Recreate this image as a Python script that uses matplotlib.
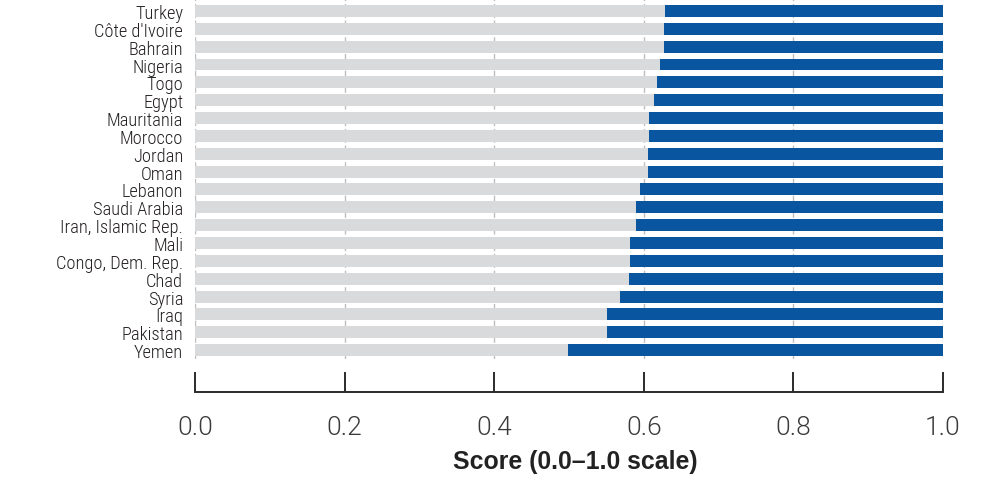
from matplotlib import pyplot as plt
import numpy as np

# Countries from bottom to top, as drawn on the chart
countries = [
    "Yemen", "Pakistan", "Iraq", "Syria", "Chad", "Congo, Dem. Rep.", "Mali",
    "Iran, Islamic Rep.", "Saudi Arabia", "Lebanon", "Oman", "Jordan", "Morocco",
    "Mauritania", "Egypt", "Togo", "Nigeria", "Bahrain", "Côte d'Ivoire", "Turkey",
]
scores = [
    0.499, 0.551, 0.551, 0.568, 0.580, 0.582, 0.582,
    0.590, 0.590, 0.595, 0.606, 0.606, 0.607,
    0.607, 0.614, 0.618, 0.622, 0.627, 0.627, 0.628,
]
xticks = [0.0, 0.2, 0.4, 0.6, 0.8, 1.0]
xtick_labels = ["0.0", "0.2", "0.4", "0.6", "0.8", "1.0"]

BLUE = "#0a559f"
GRAY = "#d9dadc"
DARK = "#2b2b2b"

fig = plt.figure(figsize=(9.96, 4.85), dpi=100)
ax = fig.add_axes([195 / 996, 125 / 485, 748 / 996, 360 / 485])

y = np.arange(len(countries))
scores = np.array(scores)
ax.barh(y, scores, left=0, height=0.67, color=GRAY, zorder=2)
ax.barh(y, 1 - scores, left=scores, height=0.67, color=BLUE, zorder=2)

ax.set_xlim(0, 1.0)
ax.set_ylim(-0.5, 19.67)

for xv in xticks:
    ax.axvline(xv, color="#bebebe", lw=1.0, ls=(0, (4, 2)), zorder=1)

for side in ("top", "right", "left"):
    ax.spines[side].set_visible(False)
ax.spines["bottom"].set_position(("outward", 24))
ax.spines["bottom"].set_linewidth(1.4)
ax.spines["bottom"].set_color(DARK)

ax.tick_params(axis="y", length=0, pad=8.5)
ax.tick_params(axis="x", direction="in", length=14.4, width=1.4, color=DARK, pad=16)

ax.set_yticks(y, labels=countries)
ax.set_xticks(xticks, labels=xtick_labels)

for lab in ax.get_yticklabels():
    lab.set_fontfamily(["Roboto Condensed", "Liberation Sans", "DejaVu Sans"])
    lab.set_fontweight(300)
    lab.set_fontsize(13.2)
    lab.set_color("#231f20")

for lab in ax.get_xticklabels():
    lab.set_fontfamily(["Roboto", "Liberation Sans", "DejaVu Sans"])
    lab.set_fontweight(300)
    lab.set_fontsize(19)
    lab.set_color("#3a3a3a")

ax.set_xlabel("Score (0.0–1.0 scale)", family=["Liberation Sans", "DejaVu Sans"],
              fontweight="bold", fontsize=17.9, color="#222222")
ax.xaxis.set_label_coords(0.508, -0.25)

fig.savefig("out.png", dpi=100)
